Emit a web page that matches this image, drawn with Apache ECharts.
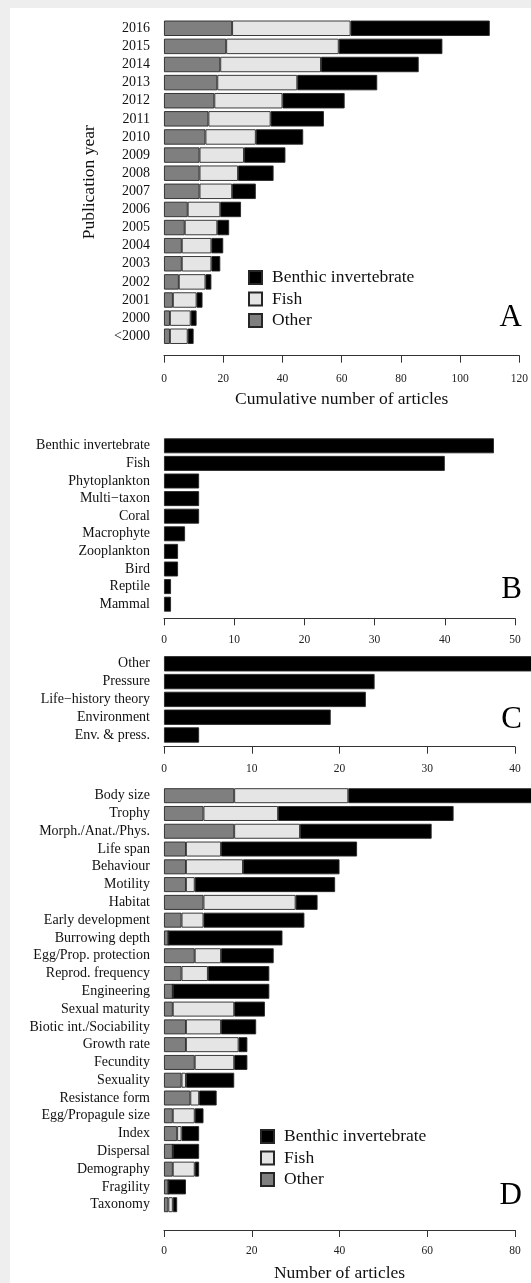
<!DOCTYPE html>
<html>
<head>
<meta charset="utf-8">
<script src="https://cdn.jsdelivr.net/npm/echarts@6/dist/echarts.min.js"></script>
<style>
html,body{margin:0;padding:0;background:#eeeeee;width:531px;height:1283px;overflow:hidden;}
#paper{position:absolute;left:10px;top:8px;width:521px;height:1275px;background:#ffffff;}
#chart{position:absolute;left:0;top:0;width:531px;height:1283px;}
</style>
</head>
<body>
<div id="paper"></div>
<div id="chart"></div>
<script>
// ---------- Data ----------
// Panel A: publication years (bottom to top) and per-year segment counts (cumulative articles)
const years = ['<2000','2000','2001','2002','2003','2004','2005','2006','2007','2008','2009','2010','2011','2012','2013','2014','2015','2016'];
const yearOther   = [2, 2, 3, 5, 6, 6, 7, 8, 12, 12, 12, 14, 15, 17, 18, 19, 21, 23];
const yearFish    = [6, 7, 8, 9, 10, 10, 11, 11, 11, 13, 15, 17, 21, 23, 27, 34, 38, 40];
const yearBenthic = [2, 2, 2, 2, 3, 4, 4, 7, 8, 12, 14, 16, 18, 21, 27, 33, 35, 47];
const axisTicksA = [0, 120, 20];

// Panel B: taxa (top to bottom)
const taxa = ['Benthic invertebrate','Fish','Phytoplankton','Multi\u2212taxon','Coral','Macrophyte','Zooplankton','Bird','Reptile','Mammal'];
const taxaCounts = [47, 40, 5, 5, 5, 3, 2, 2, 1, 1];
const axisTicksB = [0, 50, 10];

// Panel C: study focus (top to bottom)
const focus = ['Other','Pressure','Life\u2212history theory','Environment','Env. & press.'];
const focusCounts = [43, 24, 23, 19, 4];
const axisTicksC = [0, 40, 10];

// Panel D: traits (top to bottom)
const traits = ['Body size','Trophy','Morph./Anat./Phys.','Life span','Behaviour','Motility','Habitat','Early development','Burrowing depth','Egg/Prop. protection','Reprod. frequency','Engineering','Sexual maturity','Biotic int./Sociability','Growth rate','Fecundity','Sexuality','Resistance form','Egg/Propagule size','Index','Dispersal','Demography','Fragility','Taxonomy'];
const traitOther   = [16, 9, 16, 5, 5, 5, 9, 4, 1, 7, 4, 2, 2, 5, 5, 7, 4, 6, 2, 3, 2, 2, 1, 1];
const traitFish    = [26, 17, 15, 8, 13, 2, 21, 5, 0, 6, 6, 0, 14, 8, 12, 9, 1, 2, 5, 1, 0, 5, 0, 1];
const traitBenthic = [43, 40, 30, 31, 22, 32, 5, 23, 26, 12, 14, 22, 7, 8, 2, 3, 11, 4, 2, 4, 6, 1, 4, 1];
const axisTicksD = [0, 80, 20];

const groupNames = ['Other', 'Fish', 'Benthic invertebrate'];
const legendOrder = ['Benthic invertebrate', 'Fish', 'Other'];

// ---------- Styles ----------
const SERIF = '"Liberation Serif","DejaVu Serif",serif';
const colors = {'Other':'#7f7f7f', 'Fish':'#e5e5e5', 'Benthic invertebrate':'#000000'};
const border = {borderColor:'#262626', borderWidth:0.9};

function xAx(grid, ticks, offset, margin, name, nameGap) {
  return {
    type:'value', gridIndex:grid, min:ticks[0], max:ticks[1], interval:ticks[2],
    offset:offset, splitLine:{show:false},
    axisLine:{show:true, lineStyle:{color:'#333', width:1}},
    axisTick:{show:true, length:7, lineStyle:{color:'#333', width:1}},
    axisLabel:{fontFamily:SERIF, fontSize:11.5, color:'#222', margin:margin, showMaxLabel:true, showMinLabel:true},
    name:name || '', nameLocation:'middle', nameGap:nameGap || 0,
    nameTextStyle:{fontFamily:SERIF, fontSize:17.5, color:'#111'}
  };
}
function yAx(grid, cats, inverse, name) {
  return {
    type:'category', gridIndex:grid, data:cats, inverse:inverse,
    axisLine:{show:false}, axisTick:{show:false}, splitLine:{show:false},
    axisLabel:{fontFamily:SERIF, fontSize:14, color:'#111', margin:14, interval:0},
    name:name || '', nameLocation:'middle', nameRotate:90, nameGap:66,
    nameTextStyle:{fontFamily:SERIF, fontSize:17.5, color:'#111'}
  };
}

const arrA = {'Other':yearOther, 'Fish':yearFish, 'Benthic invertebrate':yearBenthic};
const arrD = {'Other':traitOther, 'Fish':traitFish, 'Benthic invertebrate':traitBenthic};

const series = [];
groupNames.forEach(n => {
  series.push({type:'bar', name:n, stack:'A', xAxisIndex:0, yAxisIndex:0, data:arrA[n],
    barCategoryGap:'15%', itemStyle:Object.assign({color:colors[n]}, border), clip:false, silent:true});
});
series.push({type:'bar', name:'Taxa', xAxisIndex:1, yAxisIndex:1, data:taxaCounts,
  barCategoryGap:'15%', itemStyle:Object.assign({color:'#000'}, border), clip:false, silent:true});
series.push({type:'bar', name:'Focus', xAxisIndex:2, yAxisIndex:2, data:focusCounts,
  barCategoryGap:'14%', itemStyle:Object.assign({color:'#000'}, border), clip:false, silent:true});
groupNames.forEach(n => {
  series.push({type:'bar', name:n, stack:'D', xAxisIndex:3, yAxisIndex:3, data:arrD[n],
    barCategoryGap:'16%', itemStyle:Object.assign({color:colors[n]}, border), clip:false, silent:true});
});

const letter = (t, top) => ({text:t, right:9, top:top, padding:0,
  textStyle:{fontFamily:SERIF, fontSize:31, fontWeight:'normal', color:'#000'}});

const legendCommon = {orient:'vertical', padding:0, itemWidth:13, itemHeight:13, itemGap:3.5,
  icon:'rect', selectedMode:false, data:legendOrder,
  textStyle:{fontFamily:SERIF, fontSize:17.5, color:'#111', padding:[0,0,0,5]}};

const chart = echarts.init(document.getElementById('chart'), null, {renderer:'canvas'});
chart.setOption({
  backgroundColor:'transparent',
  animation:false,
  title:[letter('A', 302), letter('B', 574), letter('C', 704.5), letter('D', 1180)],
  legend:[
    Object.assign({left:248, top:268.5}, legendCommon),
    Object.assign({left:260, top:1127.5, itemGap:2.8}, legendCommon)
  ],
  grid:[
    {left:164, right:8.3, top:19.2, height:326.1},
    {left:164, right:16, top:437, height:176},
    {left:164, right:16, top:654.9, height:89},
    {left:164, right:16, top:786.8, height:431.3}
  ],
  xAxis:[
    xAx(0, axisTicksA, 10.4, 17.5, 'Cumulative number of articles', 34.8),
    xAx(1, axisTicksB, 5.3, 16),
    xAx(2, axisTicksC, 2.8, 16.5),
    xAx(3, axisTicksD, 16.4, 15, 'Number of articles', 34)
  ],
  yAxis:[
    yAx(0, years, false, 'Publication year'),
    yAx(1, taxa, true),
    yAx(2, focus, true),
    yAx(3, traits, true)
  ],
  series:series
});
</script>
</body>
</html>
